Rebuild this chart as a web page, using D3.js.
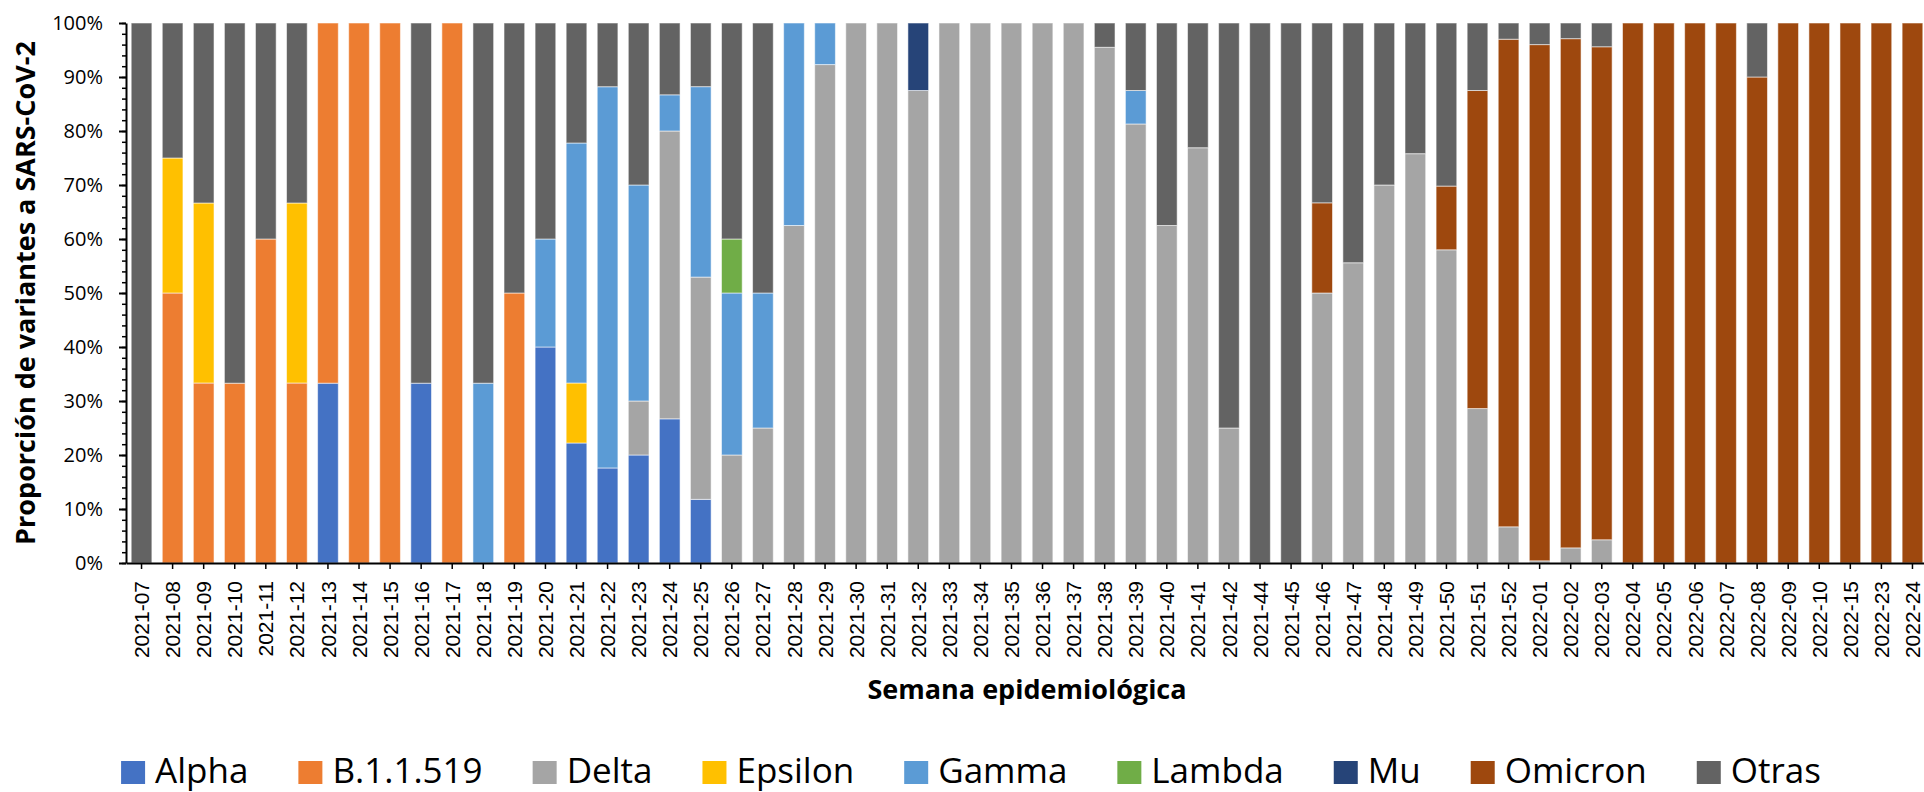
<!DOCTYPE html>
<html>
<head>
    <meta charset="utf-8">
    <style>
        html,
        body {
            margin: 0;
            padding: 0;
            background-color: #ffffff;
        }

        #chart {
            width: 1924px;
            height: 792px;
            overflow: hidden;
        }

        .axis path,
        .axis line {
            stroke: #000000;
        }
    </style>
</head>
<body>
    <div id="chart"></div>

    <script src="https://cdn.jsdelivr.net/npm/d3@7"></script>
    <script>
        // semanas epidemiologicas (eje x)
        var semanas = [
            "2021-07", "2021-08", "2021-09", "2021-10", "2021-11", "2021-12", "2021-13", "2021-14", "2021-15", "2021-16",
            "2021-17", "2021-18", "2021-19", "2021-20", "2021-21", "2021-22", "2021-23", "2021-24", "2021-25", "2021-26",
            "2021-27", "2021-28", "2021-29", "2021-30", "2021-31", "2021-32", "2021-33", "2021-34", "2021-35", "2021-36",
            "2021-37", "2021-38", "2021-39", "2021-40", "2021-41", "2021-42", "2021-44", "2021-45", "2021-46", "2021-47",
            "2021-48", "2021-49", "2021-50", "2021-51", "2021-52", "2022-01", "2022-02", "2022-03", "2022-04", "2022-05",
            "2022-06", "2022-07", "2022-08", "2022-09", "2022-10", "2022-15", "2022-23", "2022-24"
        ];

        // orden de apilado = orden de la leyenda
        var variantes = ["Alpha", "B.1.1.519", "Delta", "Epsilon", "Gamma", "Lambda", "Mu", "Omicron", "Otras"];
        var colores = ["#4472C4", "#ED7D31", "#A5A5A5", "#FFC000", "#5B9BD5", "#70AD47", "#264478", "#9E480E", "#636363"];

        // porcentajes por semana
        var alpha = [
            0, 0, 0, 0, 0, 0, 33.3, 0, 0, 33.3,
            0, 0, 0, 40, 22.2, 17.6, 20, 26.7, 11.8, 0,
            0, 0, 0, 0, 0, 0, 0, 0, 0, 0,
            0, 0, 0, 0, 0, 0, 0, 0, 0, 0,
            0, 0, 0, 0, 0, 0, 0, 0, 0, 0,
            0, 0, 0, 0, 0, 0, 0, 0
        ];
        var b11519 = [
            0, 50, 33.3, 33.3, 60, 33.3, 66.7, 100, 100, 0,
            100, 0, 50, 0, 0, 0, 0, 0, 0, 0,
            0, 0, 0, 0, 0, 0, 0, 0, 0, 0,
            0, 0, 0, 0, 0, 0, 0, 0, 0, 0,
            0, 0, 0, 0, 0, 0, 0, 0, 0, 0,
            0, 0, 0, 0, 0, 0, 0, 0
        ];
        var delta = [
            0, 0, 0, 0, 0, 0, 0, 0, 0, 0,
            0, 0, 0, 0, 0, 0, 10, 53.3, 41.2, 20,
            25, 62.5, 92.3, 100, 100, 87.5, 100, 100, 100, 100,
            100, 95.5, 81.3, 62.5, 76.9, 25, 0, 0, 50, 55.6,
            70, 75.8, 58, 28.6, 6.7, 0.4, 2.8, 4.3, 0, 0,
            0, 0, 0, 0, 0, 0, 0, 0
        ];
        var epsilon = [
            0, 25, 33.3, 0, 0, 33.3, 0, 0, 0, 0,
            0, 0, 0, 0, 11.1, 0, 0, 0, 0, 0,
            0, 0, 0, 0, 0, 0, 0, 0, 0, 0,
            0, 0, 0, 0, 0, 0, 0, 0, 0, 0,
            0, 0, 0, 0, 0, 0, 0, 0, 0, 0,
            0, 0, 0, 0, 0, 0, 0, 0
        ];
        var gamma = [
            0, 0, 0, 0, 0, 0, 0, 0, 0, 0,
            0, 33.3, 0, 20, 44.4, 70.6, 40, 6.7, 35.3, 30,
            25, 37.5, 7.7, 0, 0, 0, 0, 0, 0, 0,
            0, 0, 6.2, 0, 0, 0, 0, 0, 0, 0,
            0, 0, 0, 0, 0, 0, 0, 0, 0, 0,
            0, 0, 0, 0, 0, 0, 0, 0
        ];
        var lambda = [
            0, 0, 0, 0, 0, 0, 0, 0, 0, 0,
            0, 0, 0, 0, 0, 0, 0, 0, 0, 10,
            0, 0, 0, 0, 0, 0, 0, 0, 0, 0,
            0, 0, 0, 0, 0, 0, 0, 0, 0, 0,
            0, 0, 0, 0, 0, 0, 0, 0, 0, 0,
            0, 0, 0, 0, 0, 0, 0, 0
        ];
        var mu = [
            0, 0, 0, 0, 0, 0, 0, 0, 0, 0,
            0, 0, 0, 0, 0, 0, 0, 0, 0, 0,
            0, 0, 0, 0, 0, 12.5, 0, 0, 0, 0,
            0, 0, 0, 0, 0, 0, 0, 0, 0, 0,
            0, 0, 0, 0, 0, 0, 0, 0, 0, 0,
            0, 0, 0, 0, 0, 0, 0, 0
        ];
        var omicron = [
            0, 0, 0, 0, 0, 0, 0, 0, 0, 0,
            0, 0, 0, 0, 0, 0, 0, 0, 0, 0,
            0, 0, 0, 0, 0, 0, 0, 0, 0, 0,
            0, 0, 0, 0, 0, 0, 0, 0, 16.7, 0,
            0, 0, 11.8, 58.9, 90.3, 95.6, 94.3, 91.3, 100, 100,
            100, 100, 90, 100, 100, 100, 100, 100
        ];
        var otras = [
            100, 25, 33.3, 66.7, 40, 33.3, 0, 0, 0, 66.7,
            0, 66.7, 50, 40, 22.2, 11.8, 30, 13.3, 11.8, 40,
            50, 0, 0, 0, 0, 0, 0, 0, 0, 0,
            0, 4.5, 12.5, 37.5, 23.1, 75, 100, 100, 33.3, 44.4,
            30, 24.2, 30.2, 12.5, 3, 4, 2.9, 4.4, 0, 0,
            0, 0, 10, 0, 0, 0, 0, 0
        ];

        var yTicks = [0, 0.1, 0.2, 0.3, 0.4, 0.5, 0.6, 0.7, 0.8, 0.9, 1];

        var series = [alpha, b11519, delta, epsilon, gamma, lambda, mu, omicron, otras];

        // tabla para d3.stack
        var tabla = semanas.map(function (s, i) {
            var fila = { semana: s };
            variantes.forEach(function (v, j) { fila[v] = series[j][i]; });
            return fila;
        });

        var W = 1924, H = 792;
        // ojo: "top" es reservado en window, por eso estos nombres
        var plotLeft = 126, plotRight = 1928, plotTop = 23, plotBottom = 563;

        var svg = d3.select("#chart")
            .append("svg")
            .attr("width", W)
            .attr("height", H)
        ;

        svg.append("rect")
            .attr("width", W)
            .attr("height", H)
            .attr("fill", "#ffffff")
        ;

        var x = d3.scaleBand()
            .domain(semanas)
            .range([plotLeft, plotRight])
            .paddingInner(0.334)
            .paddingOuter(0.167)
        ;

        var y = d3.scaleLinear()
            .domain([0, 1])
            .range([plotBottom, plotTop])
        ;

        var color = d3.scaleOrdinal()
            .domain(variantes)
            .range(colores)
        ;

        var stack = d3.stack()
            .keys(variantes)
            .offset(d3.stackOffsetExpand)
        ;

        var capas = stack(tabla);

        svg.append("g")
            .selectAll("g")
            .data(capas)
            .enter()
            .append("g")
            .attr("fill", function (d) { return color(d.key); })
            .selectAll("rect")
            .data(function (d) { return d.filter(function (p) { return p[1] - p[0] > 0; }); })
            .enter()
            .append("rect")
            .attr("x", function (d) { return x(d.data.semana); })
            .attr("width", x.bandwidth())
            .attr("y", function (d) { return y(d[1]); })
            .attr("height", function (d) { return y(d[0]) - y(d[1]); })
            .attr("stroke", "#ffffff")
            .attr("stroke-opacity", 0.55)
            .attr("stroke-width", 1)
        ;

        // eje y: marcas menores cada 2%
        svg.append("g")
            .attr("class", "axis")
            .attr("transform", "translate(" + plotLeft + ",0)")
            .call(d3.axisLeft(y).tickValues(d3.range(0, 51).map(function (i) { return i / 50; })).tickSize(4).tickFormat(""))
            .call(function (g) { g.select(".domain").remove(); })
            .selectAll("line")
            .attr("stroke-width", 1.5)
        ;

        var ejeY = svg.append("g")
            .attr("class", "axis")
            .attr("transform", "translate(" + plotLeft + ",0)")
            .call(d3.axisLeft(y).tickValues(yTicks).tickFormat(d3.format(".0%")).tickSize(7).tickSizeOuter(0).tickPadding(16))
        ;
        ejeY.select(".domain").attr("stroke-width", 2);
        ejeY.selectAll("line").attr("stroke-width", 2);
        ejeY.selectAll("text")
            .attr("font-family", "'Open Sans', sans-serif")
            .attr("font-size", 20)
            .attr("fill", "#000000")
        ;

        var ejeX = svg.append("g")
            .attr("class", "axis")
            .attr("transform", "translate(0," + plotBottom + ")")
            .call(d3.axisBottom(x).tickSize(6).tickSizeOuter(0))
        ;
        ejeX.select(".domain").attr("stroke-width", 2);
        ejeX.selectAll("line").attr("stroke-width", 1.5);
        ejeX.selectAll("text")
            .attr("font-family", "'Liberation Sans', Arial, sans-serif")
            .attr("font-size", 21)
            .attr("fill", "#000000")
            .attr("transform", "rotate(-90)")
            .attr("text-anchor", "end")
            .attr("x", -18)
            .attr("y", 0)
            .attr("dy", "0.36em")
        ;

        // titulos
        svg.append("text")
            .attr("x", (plotLeft + plotRight) / 2)
            .attr("y", 699)
            .attr("text-anchor", "middle")
            .attr("font-family", "'Open Sans', sans-serif")
            .attr("font-weight", "bold")
            .attr("font-size", 27)
            .attr("fill", "#000000")
            .text("Semana epidemiológica")
        ;

        svg.append("text")
            .attr("transform", "translate(35," + ((plotTop + plotBottom) / 2) + ") rotate(-90)")
            .attr("text-anchor", "middle")
            .attr("font-family", "'Open Sans', sans-serif")
            .attr("font-weight", "bold")
            .attr("font-size", 27)
            .attr("fill", "#000000")
            .text("Proporción de variantes a SARS-CoV-2")
        ;

        // leyenda
        var gapItem = 50;
        var leyenda = svg.append("g");
        var items = leyenda.selectAll("g")
            .data(variantes)
            .enter()
            .append("g")
        ;
        items.append("rect")
            .attr("y", 761)
            .attr("width", 24)
            .attr("height", 23)
            .attr("fill", function (d) { return color(d); })
        ;
        items.append("text")
            .attr("x", 34)
            .attr("y", 783)
            .attr("font-family", "'Open Sans', sans-serif")
            .attr("font-size", 35)
            .attr("fill", "#000000")
            .text(function (d) { return d; })
        ;

        var cursor = 0;
        items.each(function () {
            var g = d3.select(this);
            g.attr("transform", "translate(" + cursor + ",0)");
            cursor += 34 + g.select("text").node().getComputedTextLength() + gapItem;
        });
        var total = cursor - gapItem;
        leyenda.attr("transform", "translate(" + (971 - total / 2) + ",0)");
    </script>
</body>
</html>
